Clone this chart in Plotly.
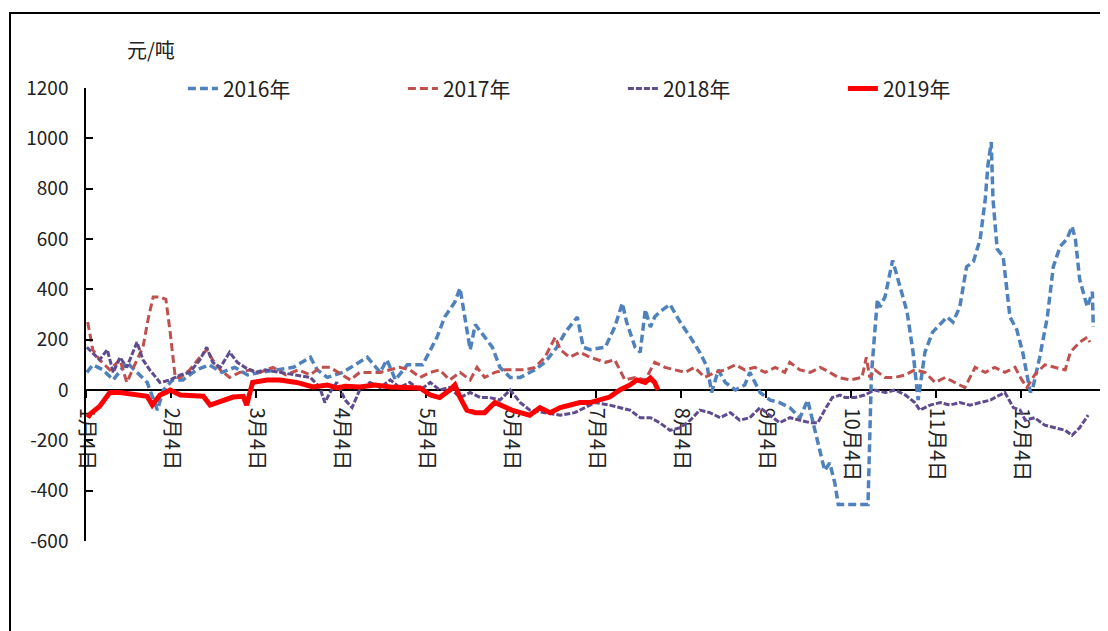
import plotly.graph_objects as go

# x = months after 1月4日 (0 = 1月4日, 1 = 2月4日, ...)
tick_labels = ["1月4日", "2月4日", "3月4日", "4月4日", "5月4日", "6月4日",
               "7月4日", "8月4日", "9月4日", "10月4日", "11月4日", "12月4日"]
tick_pos = list(range(12))
y_ticks = [-600, -400, -200, 0, 200, 400, 600, 800, 1000, 1200]
y_tick_text = ["-600", "-400", "-200", "0", "200", "400", "600", "800", "1000", "1200"]

x2016 = [0.01, 0.08, 0.2, 0.32, 0.48, 0.6, 0.72, 0.84, 0.91, 1.02, 1.14, 1.3, 1.45, 1.6, 1.75, 1.9,
         2.05, 2.44, 2.64, 2.72, 2.84, 3.02, 3.31, 3.46, 3.54, 3.64, 3.78, 3.96, 4.05, 4.13, 4.22,
         4.34, 4.4, 4.49, 4.52, 4.58, 4.69, 4.78, 4.87, 4.99, 5.11, 5.28, 5.4, 5.54, 5.64, 5.78,
         5.85, 5.93, 6.11, 6.22, 6.31, 6.36, 6.46, 6.52, 6.58, 6.64, 6.69, 6.75, 6.87, 6.99, 7.11,
         7.22, 7.31, 7.36, 7.44, 7.52, 7.64, 7.75, 7.81, 7.93, 8.05, 8.16, 8.28, 8.4, 8.49, 8.58,
         8.64, 8.69, 8.75, 8.81, 8.85, 8.99, 9.2, 9.24, 9.31, 9.34, 9.4, 9.49, 9.58, 9.66, 9.73,
         9.78, 9.79, 9.87, 9.96, 10.13, 10.2, 10.28, 10.36, 10.44, 10.52, 10.58, 10.61, 10.65,
         10.67, 10.72, 10.79, 10.87, 10.95, 11.02, 11.11, 11.14, 11.22, 11.31, 11.38, 11.46,
         11.54, 11.6, 11.64, 11.69, 11.78, 11.84, 11.85]
y2016 = [70, 100, 80, 40, 110, 70, 30, -80, 0, 40, 40, 80, 100, 70, 90, 60,
         70, 90, 130, 80, 50, 70, 130, 70, 120, 40, 100, 100, 160, 210, 290,
         350, 405, 210, 160, 260, 210, 170, 90, 50, 50, 80, 110, 170, 230, 290,
         170, 160, 170, 250, 345, 270, 170, 150, 320, 250, 290, 310, 340, 270, 210,
         150, 90, -10, 80, 30, 0, 20, 70, -10, -40, -50, -70, -110, -40, -160,
         -240, -320, -290, -370, -455, -455, -455, 60, 360, 330, 370, 515, 410, 310, 150,
         0, -40, 150, 230, 290, 270, 330, 490, 510, 600, 760, 890, 985,
         760, 560, 530, 290, 240, 150, -10, 10, 130, 290, 490, 570,
         600, 650, 600, 440, 330, 390, 250]

x2017 = [0.02, 0.08, 0.16, 0.28, 0.4, 0.48, 0.6, 0.67, 0.73, 0.79, 0.87, 0.94, 0.99, 1.05, 1.11,
         1.22, 1.34, 1.42, 1.49, 1.58, 1.69, 1.81, 1.93, 2.05, 2.2, 2.35, 2.5, 2.64, 2.75, 2.87,
         3.11, 3.22, 3.46, 3.69, 3.81, 3.93, 4.05, 4.16, 4.28, 4.4, 4.52, 4.6, 4.69, 4.81, 4.93,
         5.05, 5.16, 5.28, 5.4, 5.52, 5.58, 5.69, 5.81, 5.93, 6.11, 6.22, 6.28, 6.34, 6.46, 6.58,
         6.69, 6.81, 6.93, 7.05, 7.16, 7.28, 7.4, 7.52, 7.64, 7.75, 7.87, 7.99, 8.11, 8.22, 8.28,
         8.4, 8.52, 8.64, 8.75, 8.85, 8.99, 9.13, 9.18, 9.22, 9.28, 9.4, 9.52, 9.64, 9.75, 9.87,
         9.99, 10.11, 10.22, 10.34, 10.46, 10.58, 10.69, 10.81, 10.93, 11.01, 11.07, 11.16,
         11.28, 11.4, 11.52, 11.58, 11.69, 11.78, 11.81]
y2017 = [270, 160, 120, 80, 120, 30, 120, 170, 280, 370, 370, 360, 230, 50, 50,
         80, 130, 160, 120, 80, 50, 70, 80, 70, 90, 60, 80, 60, 90, 90,
         40, 70, 70, 90, 80, 50, 70, 80, 40, 70, 40, 90, 50, 70, 80,
         80, 80, 90, 130, 210, 160, 130, 150, 130, 110, 120, 80, 40, 50, 40,
         110, 90, 80, 70, 90, 50, 70, 80, 100, 80, 90, 70, 90, 70, 110,
         80, 70, 90, 70, 50, 40, 50, 130, 50, 80, 50, 50, 60, 80, 70,
         30, 50, 30, 10, 90, 70, 90, 70, 90, 40, 10, 60,
         100, 90, 80, 150, 190, 210, 190]

x2018 = [0.01, 0.16, 0.25, 0.32, 0.4, 0.48, 0.6, 0.67, 0.75, 0.87, 0.99, 1.11, 1.22, 1.34, 1.42,
         1.49, 1.58, 1.69, 1.78, 1.87, 1.99, 2.11, 2.28, 2.46, 2.64, 2.75, 2.81, 2.87, 2.95, 3.05,
         3.13, 3.22, 3.34, 3.46, 3.58, 3.69, 3.81, 3.93, 4.05, 4.16, 4.28, 4.4, 4.52, 4.64, 4.75,
         4.87, 4.99, 5.11, 5.22, 5.4, 5.58, 5.75, 5.87, 5.99, 6.16, 6.28, 6.4, 6.52, 6.64, 6.75,
         6.87, 6.99, 7.11, 7.22, 7.34, 7.46, 7.58, 7.69, 7.81, 7.93, 8.05, 8.16, 8.28, 8.4, 8.52,
         8.61, 8.69, 8.78, 8.87, 8.93, 9.05, 9.16, 9.28, 9.4, 9.52, 9.64, 9.75, 9.81, 9.93, 10.05,
         10.16, 10.28, 10.4, 10.52, 10.64, 10.75, 10.81, 10.91, 10.99, 11.05, 11.16, 11.28, 11.4,
         11.52, 11.6, 11.69, 11.79]
y2018 = [170, 120, 160, 70, 130, 90, 190, 120, 80, 30, 40, 60, 70, 120, 170,
         110, 90, 150, 110, 90, 70, 80, 70, 60, 50, 10, -50, -10, 30, -40,
         -70, 0, 30, 10, 40, 10, 30, 0, 30, 0, 10, -30, -10, -30, -30,
         -40, 0, -50, -80, -90, -100, -90, -70, -50, -60, -70, -80, -110, -110, -130,
         -160, -150, -120, -80, -90, -110, -90, -120, -110, -70, -100, -130, -110, -120, -130,
         -130, -80, -30, -20, -30, -30, -20, 0, -10, 0, -20, -50, -80, -60, -50,
         -60, -50, -60, -50, -40, -20, -10, -70, -80, -120, -110, -140, -150,
         -160, -180, -150, -100]

x2019 = [0.02, 0.05, 0.16, 0.28, 0.4, 0.5, 0.72, 0.78, 0.87, 0.95, 0.99, 1.11, 1.38, 1.46, 1.58,
         1.73, 1.85, 1.89, 1.96, 2.13, 2.28, 2.48, 2.67, 2.84, 2.95, 3.05, 3.22, 3.4, 3.58, 3.75,
         3.93, 4.05, 4.16, 4.28, 4.34, 4.4, 4.48, 4.58, 4.69, 4.81, 4.93, 5.01, 5.11, 5.22, 5.34,
         5.46, 5.58, 5.69, 5.81, 5.93, 6.05, 6.16, 6.28, 6.4, 6.48, 6.58, 6.64, 6.69, 6.73]
y2019 = [-110, -95, -65, -10, -10, -15, -25, -60, -20, -8, 0, -20, -25, -60, -45,
         -28, -25, -60, 30, 40, 40, 30, 12, 20, 8, 15, 12, 20, 12, 8,
         8, -20, -30, 0, 20, -30, -80, -90, -90, -50, -70, -80, -90, -100, -70,
         -90, -70, -60, -50, -50, -40, -28, 0, 20, 40, 30, 48, 30, 0]

series = [
    ("2016年", x2016, y2016, "#4F81BD", 3.5, "8px,4px"),
    ("2017年", x2017, y2017, "#C0504D", 3, "8px,4px"),
    ("2018年", x2018, y2018, "#5E4C8E", 3, "6px,2px"),
    ("2019年", x2019, y2019, "#FF0000", 5, "solid"),
]

fig = go.Figure()
for name, xs, ys, color, w, dash in series:
    fig.add_trace(go.Scatter(x=xs, y=ys, mode="lines", name=name,
                             line=dict(color=color, width=w, dash=dash)))

FONT = "Noto Sans CJK SC"

fig.update_layout(
    width=1100, height=623,
    margin=dict(l=78, r=2, t=80, b=90, autoexpand=False),
    paper_bgcolor="white", plot_bgcolor="white",
    font=dict(family=FONT, color="#222222", size=19),
    showlegend=True,
    legend=dict(orientation="h", x=0.095, y=0.998, xanchor="left", yanchor="middle",
                entrywidth=175, entrywidthmode="pixels",
                font=dict(family=FONT, size=21, color="#222222"),
                bgcolor="rgba(0,0,0,0)", itemclick=False),
    xaxis=dict(range=[0, 12], tickvals=tick_pos, ticktext=tick_labels, tickangle=90,
               anchor="free", position=1/3, showline=True, linecolor="black", linewidth=1.5,
               ticks="outside", ticklen=7, tickcolor="black", tickwidth=1.5,
               showgrid=False, zeroline=False, layer="below traces", automargin=False,
               ticklabelstandoff=6,
               tickfont=dict(family=FONT, size=20, color="#222222")),
    yaxis=dict(range=[-600, 1200], tickvals=y_ticks, ticktext=y_tick_text,
               showline=True, linecolor="black", linewidth=1.5,
               ticks="inside", ticklen=7, tickcolor="black", tickwidth=1.5,
               showgrid=False, zeroline=False, ticklabelstandoff=12, automargin=False,
               tickfont=dict(family=FONT, size=19, color="#222222")),
    annotations=[dict(text="元/吨", xref="paper", yref="paper", x=0.038, y=1.084,
                      xanchor="left", yanchor="middle", showarrow=False,
                      font=dict(family=FONT, size=20, color="#222222"))],
    shapes=[dict(type="rect", xref="paper", yref="paper", x0=-0.0745, x1=1.0088,
                 y0=-0.2185, y1=1.1656, line=dict(color="black", width=2), layer="below")],
)

fig.write_html("out.html")
